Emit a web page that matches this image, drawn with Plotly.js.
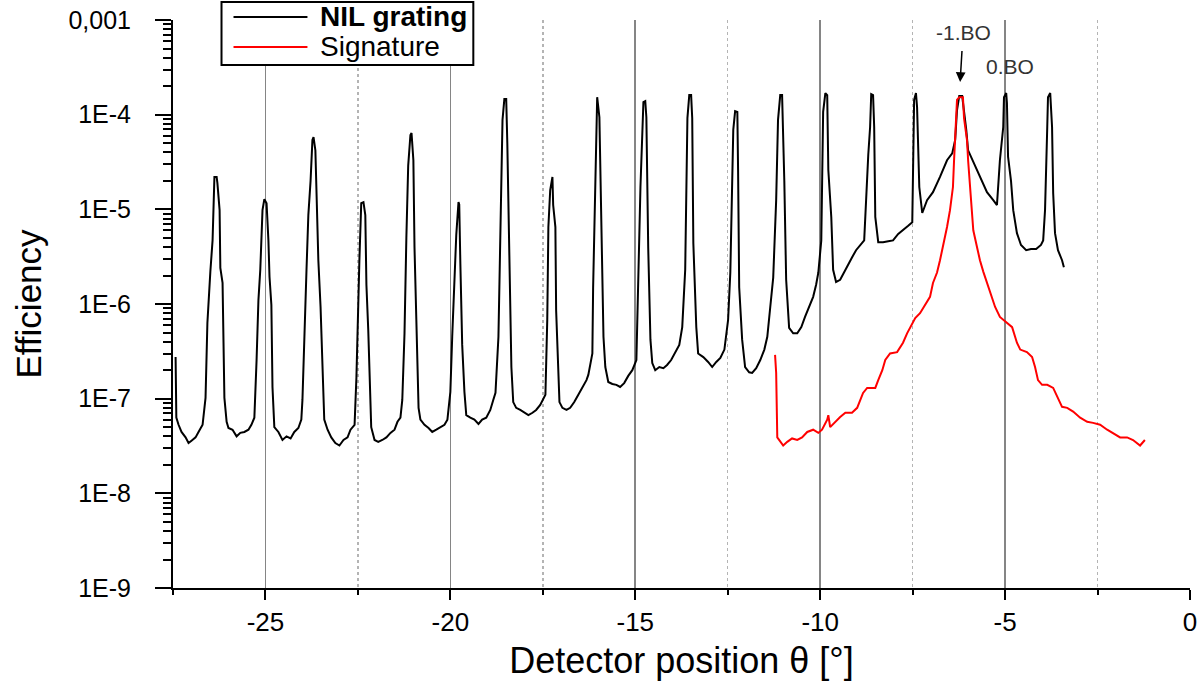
<!DOCTYPE html>
<html>
<head>
<meta charset="utf-8">
<script src="https://cdn.plot.ly/plotly-3.0.1.min.js"></script>
<style>
  html, body { margin: 0; padding: 0; background: #fff; }
  #chart { width: 1200px; height: 681px; }
</style>
</head>
<body>
<div id="chart"></div>
<script>
// NIL grating scan (black)
const gratingX = [
  -27.43, -27.41, -27.35, -27.27, -27.16, -27.08, -27.00, -26.89, -26.81, -26.70,
  -26.62, -26.57, -26.49, -26.43, -26.38, -26.32, -26.30, -26.24, -26.22, -26.16,
  -26.11, -26.05, -26.00, -25.89, -25.78, -25.68, -25.57, -25.46, -25.38,
  -25.30, -25.24, -25.19, -25.14, -25.08, -25.03, -24.97, -24.92, -24.89, -24.84,
  -24.81, -24.76, -24.65, -24.54, -24.43, -24.32, -24.22, -24.11, -24.03,
  -24.00, -23.95, -23.89, -23.84, -23.78, -23.73, -23.70, -23.65, -23.62, -23.57,
  -23.51, -23.46, -23.41, -23.32, -23.22, -23.11, -23.00, -22.89, -22.78, -22.70,
  -22.59, -22.54, -22.51, -22.46, -22.41, -22.35, -22.30, -22.27, -22.22, -22.19,
  -22.14, -22.05, -21.95, -21.84, -21.73, -21.62, -21.51, -21.43,
  -21.35, -21.30, -21.24, -21.19, -21.14, -21.08, -21.05, -21.00, -20.97, -20.92,
  -20.89, -20.86, -20.81, -20.70, -20.59, -20.49, -20.38, -20.27, -20.16, -20.08,
  -20.00, -19.95, -19.89, -19.84, -19.78, -19.76, -19.73, -19.68, -19.62, -19.57,
  -19.46, -19.35, -19.24, -19.14, -19.03, -18.92, -18.84,
  -18.78, -18.70, -18.65, -18.59, -18.54, -18.49, -18.46, -18.41, -18.35, -18.30,
  -18.22, -18.11, -18.00, -17.89, -17.78, -17.68, -17.57,
  -17.43, -17.38, -17.35, -17.30, -17.24, -17.22, -17.16, -17.14, -17.08, -17.05,
  -16.97, -16.86, -16.76, -16.65, -16.54, -16.43, -16.32,
  -16.27, -16.16, -16.14, -16.08, -16.03, -15.97, -15.92, -15.86, -15.81, -15.73,
  -15.62, -15.51, -15.41, -15.30, -15.19, -15.08,
  -14.97, -14.92, -14.86, -14.78, -14.73, -14.70, -14.68, -14.65, -14.59, -14.54,
  -14.46, -14.35, -14.24, -14.14, -14.03, -13.92, -13.81,
  -13.73, -13.65, -13.59, -13.54, -13.49, -13.46, -13.43, -13.35, -13.30, -13.16,
  -13.03, -12.92, -12.81, -12.70, -12.59,
  -12.49, -12.43, -12.35, -12.30, -12.24, -12.22, -12.19, -12.11, -12.03, -11.92,
  -11.84, -11.73, -11.62, -11.51,
  -11.43, -11.35, -11.27, -11.19, -11.14, -11.08, -11.03, -10.97, -10.92, -10.84,
  -10.73, -10.62, -10.51, -10.41, -10.30, -10.19, -10.11,
  -10.05, -9.97, -9.92, -9.86, -9.81, -9.78, -9.70, -9.65, -9.57, -9.46,
  -9.35, -9.24, -9.14, -9.03, -8.92, -8.81,
  -8.70, -8.65, -8.62, -8.57, -8.54, -8.51, -8.43, -8.30, -8.16, -8.03,
  -7.89, -7.76, -7.62, -7.51,
  -7.49, -7.46, -7.41, -7.38, -7.32, -7.24,
  -7.11, -6.95, -6.76, -6.57, -6.43, -6.35, -6.30, -6.24, -6.16, -6.11,
  -6.05, -6.00, -5.86, -5.68, -5.49, -5.32, -5.22,
  -5.14, -5.05, -5.03, -4.97, -4.95, -4.92, -4.84, -4.78, -4.68, -4.57,
  -4.43, -4.30, -4.16, -4.03,
  -3.97, -3.92, -3.86, -3.84, -3.78, -3.73, -3.70, -3.65, -3.57, -3.46, -3.41
];
const gratingY = [
  2.75e-7, 6.3e-8, 5.3e-8, 4.45e-8, 3.9e-8, 3.4e-8, 3.6e-8, 3.9e-8, 4.45e-8, 5.3e-8,
  1.02e-7, 6.3e-7, 2.2e-6, 4.7e-6, 2.2e-5, 2.2e-5, 1.9e-5, 9.8e-6, 2.4e-6, 1.67e-6,
  1.02e-7, 5.7e-8, 4.9e-8, 4.7e-8, 4.0e-8, 4.35e-8, 4.45e-8, 4.7e-8, 5.3e-8,
  6.3e-8, 2.56e-7, 1.1e-6, 2.3e-6, 9.8e-6, 1.28e-5, 1.16e-5, 4.7e-6, 1.93e-6, 9.8e-7,
  1.33e-7, 5.0e-8, 4.45e-8, 3.66e-8, 4.0e-8, 3.8e-8, 4.45e-8, 4.9e-8, 6.0e-8,
  9.7e-8, 5.3e-7, 2.3e-6, 8.7e-6, 2.0e-5, 5.4e-5, 5.8e-5, 4.2e-5, 1.25e-5, 2.9e-6,
  9.3e-7, 2.0e-7, 6.0e-8, 4.7e-8, 3.9e-8, 3.4e-8, 3.2e-8, 3.66e-8, 3.9e-8, 4.7e-8,
  5.3e-8, 1.69e-7, 6.95e-7, 2.9e-6, 1.16e-5, 1.19e-5, 8.7e-6, 1.6e-6, 5.3e-7, 2.44e-7,
  5.0e-8, 3.66e-8, 3.5e-8, 3.66e-8, 3.9e-8, 4.35e-8, 4.7e-8, 5.7e-8,
  6.3e-8, 9.7e-8, 4.9e-7, 5.0e-6, 2.9e-5, 6.1e-5, 6.4e-5, 3.3e-5, 4.0e-6, 6.8e-7,
  2.56e-7, 8.0e-8, 6.0e-8, 5.3e-8, 4.9e-8, 4.45e-8, 4.7e-8, 5.0e-8, 5.3e-8, 6.0e-8,
  1.18e-7, 4.5e-7, 1.93e-6, 5.4e-6, 1.19e-5, 1.13e-5, 2.7e-6, 3.7e-7, 1.18e-7, 6.7e-8,
  6.3e-8, 6.0e-8, 5.4e-8, 6.0e-8, 6.3e-8, 7.6e-8, 9.7e-8,
  1.15e-7, 4.5e-7, 6.5e-6, 8.8e-5, 1.46e-4, 1.46e-4, 5.0e-5, 3.7e-6, 2.16e-7, 9.2e-8,
  8.0e-8, 7.6e-8, 7.1e-8, 6.7e-8, 7.1e-8, 7.6e-8, 8.6e-8,
  1.1e-7, 6.8e-7, 6.5e-6, 1.6e-5, 2.2e-5, 1.11e-5, 6.5e-6, 8.6e-7, 2.16e-7, 9.2e-8,
  8.0e-8, 7.6e-8, 8.0e-8, 9.2e-8, 1.1e-7, 1.3e-7, 1.57e-7,
  1.78e-7, 3.0e-7, 1.47e-6, 2.7e-5, 1.53e-4, 9.4e-5, 6.35e-6, 4.5e-7, 2.16e-7, 1.5e-7,
  1.43e-7, 1.4e-7, 1.33e-7, 1.46e-7, 1.74e-7, 2.0e-7,
  2.56e-7, 1.5e-6, 1.72e-5, 1.36e-4, 1.39e-4, 9.4e-5, 1.72e-5, 3.9e-6, 4.2e-7, 2.38e-7,
  2.0e-7, 2.16e-7, 2.1e-7, 2.27e-7, 2.56e-7, 3.1e-7, 3.7e-7,
  5.7e-7, 2.3e-6, 9.2e-5, 1.61e-4, 1.61e-4, 9.2e-5, 4.4e-6, 5.7e-7, 3.0e-7, 2.75e-7,
  2.44e-7, 2.16e-7, 2.44e-7, 2.7e-7, 3.3e-7,
  6.8e-7, 2.15e-6, 6.9e-5, 1.09e-4, 1.07e-4, 2.6e-5, 1.5e-6, 4.2e-7, 2.16e-7, 1.9e-7,
  1.87e-7, 2.1e-7, 2.56e-7, 3.3e-7,
  4.5e-7, 9.3e-7, 1.9e-6, 1.25e-5, 8.8e-5, 1.61e-4, 1.61e-4, 2.0e-5, 1.8e-6, 5.6e-7,
  4.9e-7, 4.9e-7, 5.7e-7, 7.3e-7, 9.3e-7, 1.19e-6, 1.6e-6,
  2.15e-6, 4.7e-6, 1.07e-4, 1.69e-4, 1.61e-4, 2.6e-5, 8.3e-6, 2.3e-6, 1.71e-6, 1.8e-6,
  2.2e-6, 2.6e-6, 3.1e-6, 3.7e-6, 4.2e-6, 4.7e-6,
  3.75e-5, 7.4e-5, 1.65e-4, 1.61e-4, 7.4e-5, 8.3e-6, 4.5e-6, 4.5e-6, 4.6e-6, 4.7e-6,
  5.5e-6, 6.0e-6, 6.7e-6, 7.3e-6,
  2.2e-5, 1.43e-4, 1.69e-4, 1.2e-4, 1.72e-5, 9.15e-6,
  1.25e-5, 1.52e-5, 2.2e-5, 3.3e-5, 3.9e-5, 5.4e-5, 1.12e-4, 1.57e-4, 1.57e-4, 1.12e-4,
  6.9e-5, 4.2e-5, 3.2e-5, 2.2e-5, 1.52e-5, 1.25e-5, 1.11e-5,
  3.3e-5, 7.4e-5, 1.53e-4, 1.69e-4, 1.33e-4, 3.6e-5, 2.0e-5, 9.8e-6, 5.6e-6, 4.2e-6,
  3.7e-6, 3.8e-6, 3.8e-6, 4.2e-6,
  4.7e-6, 9.8e-6, 7.4e-5, 1.53e-4, 1.69e-4, 7.4e-5, 1.49e-5, 5.6e-6, 3.7e-6, 2.9e-6, 2.45e-6
];

// Signature scan (red)
const signatureX = [
  -11.22, -11.19, -11.16, -11.08, -11.00, -10.89, -10.76, -10.62, -10.49, -10.35,
  -10.19, -10.05, -9.95, -9.81, -9.78, -9.73, -9.59, -9.46, -9.32, -9.14,
  -9.00, -8.92, -8.84, -8.73, -8.51, -8.43, -8.32, -8.24, -8.11, -7.92,
  -7.76, -7.65, -7.51, -7.43, -7.30, -7.16, -7.03, -6.95, -6.84, -6.76,
  -6.68, -6.57, -6.49, -6.41, -6.38, -6.32, -6.30, -6.24, -6.14, -6.11,
  -6.03, -6.00, -5.95, -5.89, -5.86, -5.76, -5.68, -5.59, -5.49, -5.35,
  -5.27, -5.14, -4.95, -4.81, -4.68, -4.59, -4.41, -4.27, -4.19, -4.11,
  -4.00, -3.86, -3.70, -3.59, -3.46, -3.32, -3.16, -2.97, -2.78, -2.62,
  -2.43, -2.24, -2.08, -1.89, -1.70, -1.54, -1.35, -1.22
];
const signatureY = [
  2.9e-7, 1.87e-7, 3.9e-8, 3.5e-8, 3.2e-8, 3.5e-8, 3.8e-8, 3.66e-8, 3.9e-8, 4.45e-8,
  4.7e-8, 4.35e-8, 4.7e-8, 6.0e-8, 6.7e-8, 5.0e-8, 5.7e-8, 6.4e-8, 7.1e-8, 7.1e-8,
  8.0e-8, 9.7e-8, 1.15e-7, 1.3e-7, 1.3e-7, 1.57e-7, 2.0e-7, 2.56e-7, 3.0e-7, 3.1e-7,
  3.9e-7, 4.9e-7, 6.3e-7, 7.1e-7, 8.0e-7, 9.8e-7, 1.19e-6, 1.67e-6, 2.15e-6, 2.9e-6,
  4.0e-6, 6.5e-6, 9.8e-6, 1.72e-5, 3.3e-5, 8.2e-5, 1.43e-4, 1.53e-4, 1.53e-4, 9.2e-5,
  5.4e-5, 3.3e-5, 1.72e-5, 9.15e-6, 6.0e-6, 4.0e-6, 2.9e-6, 2.2e-6, 1.67e-6, 1.19e-6,
  9.3e-7, 7.3e-7, 6.3e-7, 5.7e-7, 3.9e-7, 3.3e-7, 3.1e-7, 2.75e-7, 2.16e-7, 1.57e-7,
  1.4e-7, 1.4e-7, 1.3e-7, 1.04e-7, 8.2e-8, 8.0e-8, 7.3e-8, 6.3e-8, 5.7e-8, 5.55e-8,
  5.3e-8, 4.7e-8, 4.35e-8, 3.9e-8, 3.9e-8, 3.66e-8, 3.2e-8, 3.66e-8
];

const xTickVals = [-25, -20, -15, -10, -5, 0];
const xTickText = ["-25", "-20", "-15", "-10", "-5", "0"];
const yTickVals = [1e-9, 1e-8, 1e-7, 1e-6, 1e-5, 1e-4, 1e-3];
const yTickText = ["1E-9", "1E-8", "1E-7", "1E-6", "1E-5", "1E-4", "0,001"];
const seriesNames = ["<b>NIL grating</b>", "Signature"];
const seriesColors = ["#000000", "#ff0000"];

const FONT = "Liberation Sans, Arial, sans-serif";

const traces = [
  {
    x: gratingX, y: gratingY,
    type: "scatter", mode: "lines",
    name: seriesNames[0], showlegend: false,
    line: { color: seriesColors[0], width: 2 }
  },
  {
    x: signatureX, y: signatureY,
    type: "scatter", mode: "lines",
    name: seriesNames[1], showlegend: false,
    line: { color: seriesColors[1], width: 2 }
  }
];

// hand-made legend box, so it can sit over the top edge like the original
const legendRows = [1.0053, 0.9525];
const legendShapes = [
  {
    type: "rect", xref: "paper", yref: "paper", layer: "above",
    x0: 0.0477, x1: 0.2953, y0: 0.9208, y1: 1.0317,
    fillcolor: "#ffffff", line: { color: "#000000", width: 2 }
  }
];
const legendNotes = [];
seriesNames.forEach(function (name, i) {
  legendShapes.push({
    type: "line", xref: "paper", yref: "paper", layer: "above",
    x0: 0.0595, x1: 0.1322, y0: legendRows[i], y1: legendRows[i],
    line: { color: seriesColors[i], width: 2 }
  });
  legendNotes.push({
    xref: "paper", yref: "paper", x: 0.1425, y: legendRows[i],
    xanchor: "left", yanchor: "middle", showarrow: false,
    text: name,
    font: { family: FONT, size: 28, color: "#000000" }
  });
});

const layout = {
  width: 1200,
  height: 681,
  margin: { l: 173, r: 10, t: 20, b: 93, autoexpand: false },
  paper_bgcolor: "#ffffff",
  plot_bgcolor: "#ffffff",
  font: { family: FONT, color: "#000000" },
  showlegend: false,
  xaxis: {
    range: [-27.5, 0],
    tickmode: "array", tickvals: xTickVals, ticktext: xTickText,
    ticks: "outside", ticklen: 10, tickwidth: 2, tickcolor: "#000000",
    showline: true, linewidth: 2, linecolor: "#000000",
    showgrid: true, gridcolor: "#858585", gridwidth: 1.6,
    zeroline: false,
    tickfont: { family: FONT, size: 26, color: "#000000" },
    minor: {
      tick0: 0, dtick: 2.5, ticks: "outside", ticklen: 5, tickwidth: 2, tickcolor: "#000000",
      showgrid: true, gridcolor: "#b4b4b4", gridwidth: 1.5, griddash: "dot"
    },
    title: {
      text: "Detector position θ [°]",
      font: { family: FONT, size: 36, color: "#000000" },
      standoff: 14
    }
  },
  yaxis: {
    type: "log",
    range: [-9, -3],
    tickmode: "array", tickvals: yTickVals, ticktext: yTickText,
    ticks: "outside", ticklen: 16, tickwidth: 2, tickcolor: "#000000",
    ticklabelstandoff: 19,
    showline: true, linewidth: 2, linecolor: "#000000",
    showgrid: false, zeroline: false,
    tickfont: { family: FONT, size: 25, color: "#000000" },
    minor: { dtick: "D1", ticks: "outside", ticklen: 8, tickwidth: 2, tickcolor: "#000000", showgrid: false },
    title: {
      text: "Efficiency",
      font: { family: FONT, size: 35, color: "#000000" },
      standoff: 16
    }
  },
  shapes: legendShapes,
  annotations: [
    {
      x: -6.216, y: -3.655, xref: "x", yref: "y",
      text: "-1.BO", showarrow: true,
      ax: 3, ay: -50, startstandoff: 6,
      arrowhead: 2, arrowsize: 1.3, arrowwidth: 1.5, arrowcolor: "#000000",
      font: { family: FONT, size: 21, color: "#333333" }
    },
    {
      x: -4.865, y: -3.486, xref: "x", yref: "y",
      text: "0.BO", showarrow: false,
      font: { family: FONT, size: 21, color: "#333333" }
    }
  ].concat(legendNotes)
};

Plotly.newPlot("chart", traces, layout, { staticPlot: true, displayModeBar: false });
</script>
</body>
</html>
